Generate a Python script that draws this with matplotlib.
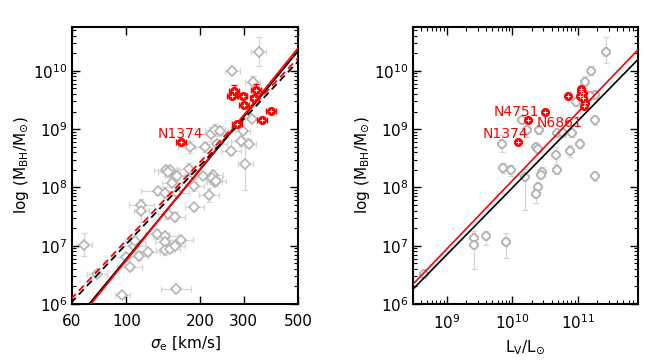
import numpy as np
import matplotlib.pyplot as plt
from matplotlib.ticker import FixedLocator, NullLocator, LogLocator, NullFormatter

# ---- left panel: sigma_e vs M_BH ----
# gray sample (sigma in km/s, log M_BH)
sig_gray = [345, 270, 326, 325, 297, 293, 315, 305, 267, 182, 208, 221, 230, 241, 233,
            145, 151, 179, 157, 148, 160, 205, 226, 224, 229, 217, 189, 189, 135, 144,
            160, 147, 158, 115, 115, 133, 144, 143, 144, 151, 158, 167, 122, 112, 107,
            108, 99.5, 103, 67.3, 75.7, 96, 159, 188, 153, 232]
logm_gray = [10.33, 10.0, 9.81, 9.18, 8.96, 8.79, 8.75, 8.40, 8.62, 8.69, 8.69, 8.91, 8.98, 8.97, 8.75,
             8.29, 8.29, 8.32, 8.20, 8.27, 8.20, 8.20, 8.22, 8.16, 8.09, 7.87, 8.02, 7.66, 7.94, 7.91,
             7.90, 7.55, 7.50, 7.69, 7.60, 7.20, 7.16, 7.07, 6.92, 6.95, 7.00, 7.10, 6.90, 6.83, 6.99,
             7.08, 6.80, 6.63, 7.02, 6.51, 6.16, 6.26, 8.22, 8.07, 8.11]
yerr_gray = [0.25, 0.06, 0.10, 0.05, 0.05, 0.08, 0.06, 0.45, 0.07, 0.10, 0.08, 0.12, 0.10, 0.08, 0.06,
             0.10, 0.06, 0.10, 0.08, 0.06, 0.06, 0.06, 0.08, 0.10, 0.06, 0.12, 0.08, 0.05, 0.06, 0.10,
             0.06, 0.10, 0.08, 0.06, 0.20, 0.08, 0.06, 0.05, 0.08, 0.05, 0.06, 0.05, 0.06, 0.08, 0.12,
             0.08, 0.06, 0.05, 0.20, 0.05, 0.05, 0.05, 0.08, 0.06, 0.06]
xerr_gray = [0.03, 0.03, 0.03, 0.03, 0.03, 0.04, 0.03, 0.03, 0.04, 0.05, 0.04, 0.05, 0.04, 0.03, 0.04,
             0.05, 0.04, 0.05, 0.04, 0.04, 0.03, 0.04, 0.04, 0.04, 0.03, 0.04, 0.04, 0.04, 0.07, 0.04,
             0.05, 0.04, 0.04, 0.05, 0.03, 0.05, 0.05, 0.04, 0.04, 0.04, 0.04, 0.05, 0.05, 0.04, 0.05,
             0.04, 0.05, 0.05, 0.03, 0.04, 0.03, 0.06, 0.04, 0.04, 0.04]

# red sample
sig_red = [167, 273, 269, 297, 300, 337, 332, 389, 357, 282]
logm_red = [8.78, 9.65, 9.57, 9.56, 9.41, 9.67, 9.53, 9.31, 9.16, 9.08]
yerr_red = [0.04, 0.10, 0.04, 0.04, 0.04, 0.10, 0.04, 0.04, 0.03, 0.03]
xerr_red = [0.02, 0.02, 0.02, 0.02, 0.02, 0.02, 0.02, 0.02, 0.02, 0.02]

# fits: log M = a + b log(sigma/200)
fit_sig = {
    'black_solid': (8.31, 5.10),
    'red_solid': (8.32, 5.20),
    'black_dash': (8.38, 4.48),
    'red_dash': (8.44, 4.47),
}

# ---- right panel: L_V vs M_BH ----
logl_gray = [11.43, 11.21, 11.11, 11.27, 11.19, 10.97, 11.26, 10.145, 10.22, 10.41, 9.85, 10.37,
             10.68, 10.78, 10.92, 11.035, 10.88, 10.67, 9.86, 9.99, 10.195, 10.45, 10.68, 10.40,
             10.37, 11.27, 9.42, 9.42, 9.60, 9.905, 8.66, 10.39, 10.44]
logmr_gray = [10.33, 10.0, 9.81, 9.59, 9.57, 9.46, 9.15, 9.16, 8.98, 8.99, 8.75, 8.69,
              8.93, 8.93, 8.93, 8.75, 8.62, 8.55, 8.33, 8.29, 8.17, 8.27, 8.29, 8.0,
              7.88, 8.19, 7.13, 7.02, 7.16, 7.06, 6.51, 8.65, 8.22]
yerr_r_lo = [0.20, 0.08, 0.10, 0.05, 0.06, 0.06, 0.08, 0.05, 0.12, 0.08, 0.15, 0.06,
             0.05, 0.06, 0.06, 0.08, 0.10, 0.15, 0.08, 0.10, 0.55, 0.08, 0.06, 0.08,
             0.15, 0.08, 0.10, 0.42, 0.15, 0.27, 0.06, 0.06, 0.06]
yerr_r_hi = [0.25, 0.08, 0.10, 0.05, 0.06, 0.06, 0.08, 0.05, 0.12, 0.08, 0.15, 0.06,
             0.05, 0.06, 0.06, 0.08, 0.10, 0.15, 0.08, 0.10, 0.15, 0.08, 0.06, 0.08,
             0.10, 0.08, 0.12, 0.10, 0.10, 0.16, 0.06, 0.06, 0.06]

logl_red = [10.093, 10.246, 10.50, 10.857, 11.035, 11.06, 11.05, 11.085, 11.11, 11.10, 11.09]
logmr_red = [8.78, 9.15, 9.30, 9.57, 9.56, 9.69, 9.65, 9.53, 9.45, 9.39, 9.62]

# fits: log M = a + b log(L/1e11)
fit_lum = {
    'black': (9.135, 1.146),
    'red': (9.28, 1.17),
}

labels_sig = [('N1374', 166, 8.91)]
labels_lum = [('N4751', 10.07, 9.30), ('N1374', 9.89, 8.91), ('N6861', 10.73, 9.11)]

GRAY = '#b4b4b4'
EGRAY = '#d6d6d6'
RED = '#ff0000'


def dex_err(vals, lo, hi=None):
    vals = np.asarray(vals, dtype=float)
    lo = np.asarray(lo, dtype=float)
    hi = lo if hi is None else np.asarray(hi, dtype=float)
    return np.vstack([vals - vals / 10**lo, vals * 10**hi - vals])


def style_axes(ax):
    ax.set_yscale('log')
    ax.set_ylim(1e6, 5.6e10)
    ax.tick_params(which='both', direction='in', top=True, right=True, labelsize=11)
    ax.tick_params(which='major', length=6, width=1.0)
    ax.tick_params(which='minor', length=3, width=0.8)
    ax.tick_params(axis='x', pad=7)
    ax.tick_params(axis='y', pad=3)
    ax.yaxis.set_major_locator(LogLocator(base=10, numticks=10))
    ax.yaxis.set_minor_locator(LogLocator(base=10, subs=np.arange(2, 10), numticks=20))
    ax.yaxis.set_minor_formatter(NullFormatter())
    for sp in ax.spines.values():
        sp.set_linewidth(1.5)
    ax.set_ylabel(r'log (M$_{\rm BH}$/M$_{\odot}$)', fontsize=11, labelpad=2)


plt.rcParams['font.family'] = ['DejaVu Sans']
fig = plt.figure(figsize=(6.65, 3.6), dpi=100)
ax1 = fig.add_axes([0.1083, 0.1556, 0.340, 0.769])
ax2 = fig.add_axes([0.621, 0.1556, 0.338, 0.769])

# left panel
ax1.set_xscale('log')
sg = np.array(sig_gray, float)
mg = 10**np.array(logm_gray)
ax1.errorbar(sg, mg, yerr=dex_err(mg, yerr_gray), xerr=dex_err(sg, xerr_gray), fmt='none',
             ecolor=EGRAY, elinewidth=0.9, capsize=2.5, capthick=0.9, zorder=1)
ax1.plot(sg, mg, 'D', ms=5, mfc='white', mec=GRAY, mew=1.2, zorder=2)

xs = np.logspace(np.log10(55), np.log10(520), 50)
for key, (a, b) in fit_sig.items():
    col = 'black' if key.startswith('black') else RED
    ls = '-' if key.endswith('solid') else (0, (4, 2.5))
    ax1.plot(xs, 10**(a + b * np.log10(xs / 200)), color=col, ls=ls, lw=1.3, zorder=3)

sr = np.array(sig_red, float)
mr = 10**np.array(logm_red)
ax1.errorbar(sr, mr, yerr=dex_err(mr, yerr_red), xerr=dex_err(sr, xerr_red), fmt='none',
             ecolor=RED, elinewidth=1.0, capsize=2.5, capthick=1.0, zorder=4)
ax1.plot(sr, mr, 'o', ms=5.5, color=RED, zorder=5)
ax1.plot(sr, mr, '+', ms=3.5, color='white', mew=0.7, zorder=6)
for txt, x, y in labels_sig:
    ax1.text(x, 10**y, txt, color=RED, fontsize=10, ha='center', va='center')

ax1.set_xlim(60, 500)
ax1.xaxis.set_major_locator(FixedLocator([60, 100, 200, 300, 500]))
ax1.xaxis.set_minor_locator(NullLocator())
ax1.set_xticklabels(['60', '100', '200', '300', '500'])
style_axes(ax1)
ax1.set_xlabel(r'$\sigma_{\rm e}$ [km/s]', fontsize=11)

# right panel
ax2.set_xscale('log')
lg = 10**np.array(logl_gray)
mg2 = 10**np.array(logmr_gray)
ax2.errorbar(lg, mg2, yerr=dex_err(mg2, yerr_r_lo, yerr_r_hi), fmt='none',
             ecolor=EGRAY, elinewidth=0.9, capsize=2.5, capthick=0.9, zorder=1)
ax2.plot(lg, mg2, '8', ms=5.5, mfc='white', mec=GRAY, mew=1.4, zorder=2)

xl = np.logspace(8.3, 12.1, 50)
for key, (a, b) in fit_lum.items():
    col = 'black' if key == 'black' else RED
    ax2.plot(xl, 10**(a + b * np.log10(xl / 1e11)), color=col, lw=1.2, zorder=3)

lr = 10**np.array(logl_red)
mrr = 10**np.array(logmr_red)
ax2.plot(lr, mrr, 'o', ms=5.5, color=RED, zorder=5)
ax2.plot(lr, mrr, '+', ms=3.5, color='white', mew=0.7, zorder=6)
for txt, x, y in labels_lum:
    ax2.text(10**x, 10**y, txt, color=RED, fontsize=10, ha='center', va='center', zorder=7)

ax2.set_xlim(3.06e8, 8.3e11)
ax2.xaxis.set_major_locator(LogLocator(base=10, numticks=10))
ax2.xaxis.set_minor_locator(LogLocator(base=10, subs=np.arange(2, 10), numticks=20))
ax2.xaxis.set_minor_formatter(NullFormatter())
style_axes(ax2)
ax2.set_xlabel(r'L$_{\rm V}$/L$_{\odot}$', fontsize=11)

fig.savefig('out.png', dpi=100)
